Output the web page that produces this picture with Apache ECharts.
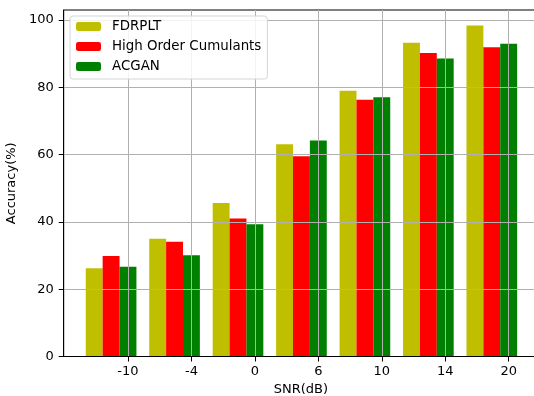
<!DOCTYPE html>
<html>
<head>
<meta charset="utf-8">
<script src="https://cdn.jsdelivr.net/npm/echarts@6/dist/echarts.min.js"></script>
<style>html,body{margin:0;padding:0;background:#fff;}#main{width:534px;height:396px;}</style>
</head>
<body>
<div id="main"></div>
<script>
var snrLabels = ['-10', '-4', '0', '6', '10', '14', '20'];
var fdrplt = [26.2, 35.0, 45.6, 63.1, 79.0, 93.3, 98.4];
var hoc = [29.9, 34.1, 41.0, 59.5, 76.3, 90.2, 91.9];
var acgan = [26.7, 30.1, 39.3, 64.2, 77.1, 88.6, 93.0];
var yTicks = [0, 20, 40, 60, 80, 100];

var step = 0.266; // bar offset in category units
var tickIdx = snrLabels.map(function (_, i) { return i; });
function pts(vals, off) { return vals.map(function (v, i) { return [i + off, v]; }); }

var font = 'DejaVu Sans';
var chart = echarts.init(document.getElementById('main'));
chart.setOption({
  animation: false,
  textStyle: { fontFamily: font },
  grid: { left: 63.7, top: 10, right: -4, bottom: 39.5, show: true, borderColor: '#000', borderWidth: 1,
    containLabel: false, outerBoundsMode: 'none' },
  legend: {
    orient: 'vertical', left: 70, top: 16,
    padding: [4, 6, 6, 6],
    itemWidth: 25, itemHeight: 9, itemGap: 7,
    backgroundColor: 'rgba(255,255,255,0.85)',
    borderColor: '#d5d5d5', borderWidth: 1, borderRadius: 3,
    textStyle: { fontFamily: font, fontSize: 13.4, color: '#000', padding: [0, 0, 0, 6], lineHeight: 13 },
    data: ['FDRPLT', 'High Order Cumulants', 'ACGAN'],
    z: 10
  },
  xAxis: {
    type: 'value', min: -1.013, max: 6.462, z: 5,
    name: 'SNR(dB)', nameLocation: 'middle', nameGap: 27,
    nameTextStyle: { fontFamily: font, fontSize: 13, color: '#000' },
    axisLine: { show: true, onZero: false, lineStyle: { color: '#000', width: 1 } },
    axisTick: { show: true, length: 5, lineStyle: { color: '#000', width: 1 }, customValues: tickIdx },
    axisLabel: { customValues: tickIdx, margin: 9, fontSize: 13, color: '#000', fontFamily: font,
      formatter: function (v) { return snrLabels[Math.round(v)]; } },
    splitLine: { show: true, lineStyle: { color: '#b0b0b0', width: 1 } }
  },
  yAxis: {
    type: 'value', min: 0, max: 103, interval: 20, z: 5,
    name: 'Accuracy(%)', nameLocation: 'middle', nameGap: 39,
    nameTextStyle: { fontFamily: font, fontSize: 13, color: '#000' },
    axisLine: { show: true, onZero: false, lineStyle: { color: '#000', width: 1 } },
    axisTick: { show: true, length: 5, lineStyle: { color: '#000', width: 1 }, customValues: yTicks },
    axisLabel: { customValues: yTicks, margin: 10, fontSize: 13, color: '#000', fontFamily: font },
    splitLine: { show: true, lineStyle: { color: '#b0b0b0', width: 1 } }
  },
  series: [
    { name: 'FDRPLT', type: 'bar', data: pts(fdrplt, -2 * step), barWidth: 16.9, barGap: '-100%', itemStyle: { color: '#bfbf00' } },
    { name: 'High Order Cumulants', type: 'bar', data: pts(hoc, -step), barWidth: 16.9, barGap: '-100%', itemStyle: { color: '#ff0000' } },
    { name: 'ACGAN', type: 'bar', data: pts(acgan, 0), barWidth: 16.9, barGap: '-100%', itemStyle: { color: '#008000' } }
  ]
});
</script>
</body>
</html>
